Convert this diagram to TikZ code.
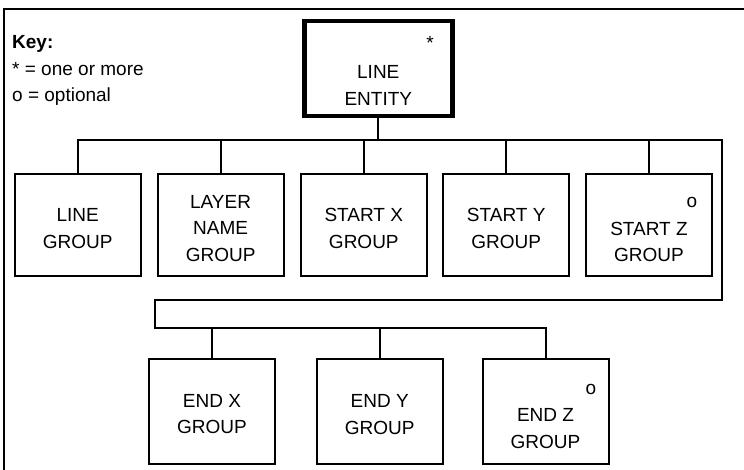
\documentclass[tikz,border=0pt]{standalone}
\usepackage{fontspec}
\setmainfont{Liberation Sans}
\begin{document}
\begin{tikzpicture}[x=1pt,y=-1pt,
  box/.style={draw,line width=2pt,minimum width=126pt,minimum height=102pt,inner sep=0pt,outer sep=0pt},
  ebox/.style={box,minimum height=105pt},
  topbox/.style={draw,line width=4.5pt,minimum width=148pt,minimum height=95pt,inner sep=0pt,outer sep=0pt},
  lbl/.style={align=center,inner sep=0pt,font=\fontsize{19}{26.5}\selectfont},
  keytxt/.style={anchor=base west,inner sep=0pt,font=\fontsize{19}{26}\selectfont},
  conn/.style={line width=2pt}]
\useasboundingbox (0,0) rectangle (744,470);
% outer frame (only top and left edges visible)
\draw[line width=2pt] (744,9.5) -- (3.5,9.5) -- (3.5,470);
% key
\node[keytxt,font=\fontsize{19}{26}\selectfont\bfseries] (key) at (12,48.5) {Key:};
\node[keytxt] (k1) at (12,76) {* = one or more};
\node[keytxt] (k2) at (12,102) {o = optional};
% top entity
\node[topbox] (top) at (378.3,68.5) {};
\node[lbl] (topt) at (378.3,85.5) {LINE\\ENTITY};
\node[lbl] (tops) at (430,43) {*};
% first row
\node[box] (b1) at (77.7,225) {};
\node[box] (b2) at (220.6,225) {};
\node[box] (b3) at (363.8,225) {};
\node[box] (b4) at (506.2,225) {};
\node[box] (b5) at (649,225) {};
\node[lbl] (b1t) at (77.7,228.5) {LINE\\GROUP};
\node[lbl] (b2t) at (220.6,228.5) {LAYER\\NAME\\GROUP};
\node[lbl] (b3t) at (363.8,228.5) {START X\\GROUP};
\node[lbl] (b4t) at (506.2,228.5) {START Y\\GROUP};
\node[lbl] (b5t) at (649,242) {START Z\\GROUP};
\node[lbl] (b5o) at (692,202) {o};
% second row
\node[ebox] (e1) at (212,411.5) {};
\node[ebox] (e2) at (379.7,411.5) {};
\node[ebox] (e3) at (545.5,411.5) {};
\node[lbl] (e1t) at (212,414) {END X\\GROUP};
\node[lbl] (e2t) at (379.7,414.5) {END Y\\GROUP};
\node[lbl] (e3t) at (545.5,428.5) {END Z\\GROUP};
\node[lbl] (e3o) at (591,389) {o};
% bus coordinates
\coordinate (r1) at (722,140);
\coordinate (r2) at (722,300);
\coordinate (l2) at (155,300);
\coordinate (l3) at (155,328);
% connectors
\draw[conn] (top.south) -- (top.south |- r1);
\draw[conn] (b1.north) -- (b1.north |- r1) -- (r1) -- (r2) -- (l2) -- (l3) -- (e3.north |- l3) -- (e3.north);
\foreach \n in {b2,b3,b4,b5} \draw[conn] (\n.north) -- (\n.north |- r1);
\foreach \n in {e1,e2} \draw[conn] (\n.north) -- (\n.north |- l3);
\end{tikzpicture}
\end{document}
